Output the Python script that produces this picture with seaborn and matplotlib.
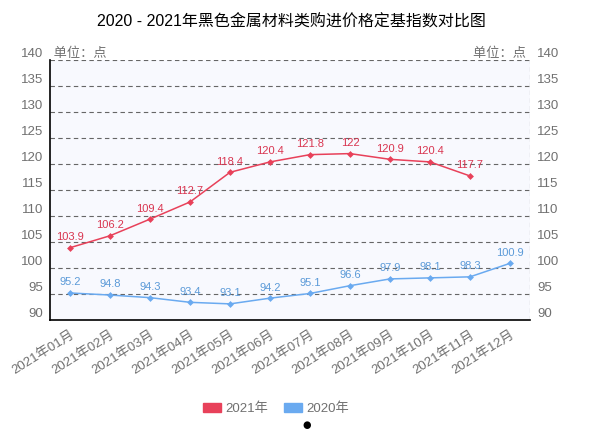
import matplotlib
matplotlib.use("Agg")
import matplotlib.pyplot as plt
import seaborn as sns
import pandas as pd
from matplotlib.patches import Patch

months = ["2021年01月", "2021年02月", "2021年03月", "2021年04月", "2021年05月", "2021年06月",
          "2021年07月", "2021年08月", "2021年09月", "2021年10月", "2021年11月", "2021年12月"]
v2021 = [103.9, 106.2, 109.4, 112.7, 118.4, 120.4, 121.8, 122, 120.9, 120.4, 117.7, None]
v2020 = [95.2, 94.8, 94.3, 93.4, 93.1, 94.2, 95.1, 96.6, 97.9, 98.1, 98.3, 100.9]
series_names = ["2021年", "2020年"]
yticks = [90, 95, 100, 105, 110, 115, 120, 125, 130, 135, 140]

title = "2020 - 2021年黑色金属材料类购进价格定基指数对比图"
unit = "单位：点"

red = "#e8415a"
blue = "#6aaaf0"
red_txt = "#d93550"
blue_txt = "#5b9ad8"
gray = "#707070"

sns.set_theme(style="white")
plt.rcParams['font.family'] = ['Liberation Sans', 'Noto Sans CJK SC', 'DejaVu Sans']

df = pd.DataFrame({"idx": range(len(months)), "月份": months,
                   series_names[0]: v2021, series_names[1]: v2020})
long = df.melt(id_vars=["idx", "月份"], value_vars=series_names,
               var_name="系列", value_name="值").dropna()

fig = plt.figure(figsize=(6.10, 4.36), dpi=100)
ax = fig.add_axes([50/610, 1-320/436, 480/610, 260/436])
ax.set_facecolor("#f8f9fe")

sns.lineplot(data=long, x="idx", y="值", hue="系列", palette=[red, blue],
             marker="D", markersize=3.5, markeredgewidth=0, linewidth=1.1,
             legend=False, ax=ax)

ax.set_xlim(-0.5, len(months) - 0.5)
ax.set_ylim(90, 140)
ax.set_yticks(yticks)
ax.set_yticklabels([str(t) for t in yticks], va="bottom", color=gray, fontsize=9.5)
ax.tick_params(axis="y", length=0, pad=5)
ax.set_xticks(df["idx"])
ax.set_xticklabels(months, rotation=32, ha="right", rotation_mode="anchor",
                   color=gray, fontsize=9.5)
ax.tick_params(axis="x", length=3, width=0.6, color="#888888", pad=3, direction="out")
ax.set_xlabel("")
ax.set_ylabel("")

for t in yticks[1:]:
    ax.axhline(t, color="#666666", linestyle=(0, (4, 3)), linewidth=0.8, zorder=1)

for s in ["top", "right"]:
    ax.spines[s].set_visible(False)
ax.spines["left"].set_color("black")
ax.spines["left"].set_linewidth(1.2)
ax.spines["bottom"].set_color("black")
ax.spines["bottom"].set_linewidth(1.2)
ax.axvline(len(months) - 0.5, color="#666666", linestyle=(0, (4, 3)), linewidth=0.8)

ax2 = ax.twinx()
ax2.set_ylim(90, 140)
ax2.set_yticks(yticks)
ax2.set_yticklabels([str(t) for t in yticks], va="bottom", color=gray, fontsize=9.5)
ax2.tick_params(axis="y", length=0, pad=5)
for s in ax2.spines.values():
    s.set_visible(False)

for i, (a, b) in enumerate(zip(v2021, v2020)):
    if a is not None:
        ax.annotate(f"{a:g}", (i, a), xytext=(0, 4), textcoords="offset points",
                    ha="center", va="bottom", color=red_txt, fontsize=8)
    if b is not None:
        ax.annotate(f"{b:g}", (i, b), xytext=(0, 4), textcoords="offset points",
                    ha="center", va="bottom", color=blue_txt, fontsize=8)

ax.text(0.0, 1.0, " " + unit, transform=ax.transAxes, ha="left", va="bottom",
        color=gray, fontsize=9.5)
ax.text(1.0, 1.0, unit + " ", transform=ax.transAxes, ha="right", va="bottom",
        color=gray, fontsize=9.5)

fig.text(291/610, 1-22/436, title, ha="center", va="center", fontsize=11.5, color="black")

handles = [Patch(color=red), Patch(color=blue)]
fig.legend(handles, series_names, loc="center", bbox_to_anchor=(276/610, 1-409/436),
           ncol=2, frameon=False, fontsize=9.5, labelcolor=gray,
           handlelength=1.4, handleheight=0.7, handletextpad=0.3, columnspacing=1.2)
fig.text(307/610, 1-425/436, "●", ha="center", va="center", fontsize=7, color="black",
         family="DejaVu Sans")

fig.savefig("out.png", dpi=100, facecolor="white")
